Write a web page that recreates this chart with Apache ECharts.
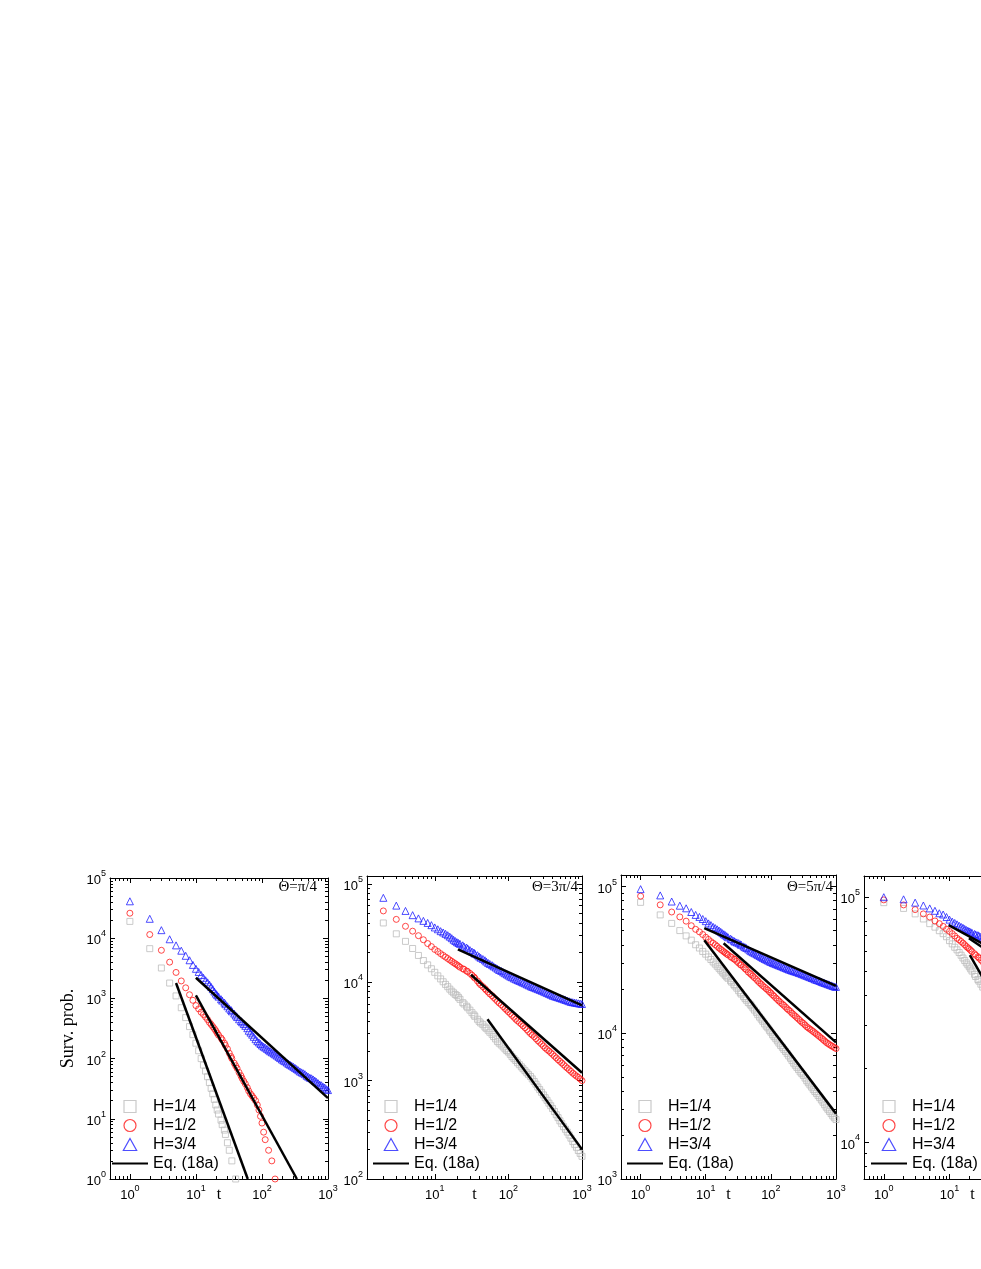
<!DOCTYPE html>
<html>
<head>
<meta charset="utf-8">
<script src="https://cdn.jsdelivr.net/npm/echarts@6/dist/echarts.min.js"></script>
<style>
  body { margin: 0; background: #fff; }
  #wrap { width: 981px; height: 1269px; overflow: hidden; }
  #main { width: 1100px; height: 1269px; }
</style>
</head>
<body>
<div id="wrap"><div id="main"></div></div>
<script>
// time steps (every integer at the start, then roughly even in log t)
var T = [1,2,3,4,5,6,7,8,9,10,11,
  12,13,14,15,16,17,18,19,20,21,22,
  24,25,27,28,30,32,34,35,38,40,42,
  45,48,50,53,56,60,63,67,71,75,80,
  85,90,95,100,106,112,119,126,133,141,150,
  158,168,178,188,200,211,224,237,251,266,282,
  299,316,335,355,376,398,422,447,473,501,531,
  562,596,631,668,708,750,794,841,891,944,1000];

var names = ['H=1/4', 'H=1/2', 'H=3/4', 'Eq. (18a)'];

// Theta = pi/4
var grey1 = [1.9e4,6.7e3,3.2e3,1.8e3,1.1e3,700,480,340,250,180,135,
  100,78,62,50,40,32,26,21,17,14,12,
  9.5,8,6.5,5.5,4,3,null,2,null,1];
var red1 = [2.6e4,1.15e4,6.3e3,4e3,2.7e3,1.95e3,1.5e3,1.15e3,930,760,670,
  590,540,490,445,400,370,340,315,290,265,245,
  220,205,180,165,145,123,108,100,84,76,69,
  59,52,47,42,38,33,29,26,24,22,20,
  17,14,11,8.5,6,4.5,null,3,null,2,null,
  1];
var blue1 = [4.1e4,2.1e4,1.36e4,9.6e3,7.6e3,6.2e3,5.1e3,4.3e3,3.6e3,3.1e3,2.75e3,
  2.45e3,2.2e3,2e3,1.85e3,1.7e3,1.55e3,1.42e3,1.3e3,1.2e3,1.13e3,1.07e3,
  970,920,850,800,740,680,640,610,560,520,490,
  450,420,400,375,350,320,290,270,250,230,210,
  195,185,175,165,158,152,145,138,132,127,122,
  117,112,107,102,97,93,90,86,82,79,76,
  73,70,67,64,61,59,57,55,52,50,48,
  47,45,43,41,39,37,36,34,33,31,30];
var eq1 = [[[5,1800],[61,1]], [[10,1120],[338,1]], [[10,2200],[1000,22]]];

// Theta = 3pi/4
var grey2 = [null,4e4,3.1e4,2.6e4,2.2e4,1.87e4,1.66e4,1.5e4,1.37e4,1.26e4,1.16e4,
  1.08e4,1.01e4,9.5e3,9e3,8.5e3,8.1e3,7.8e3,7.5e3,7.3e3,7e3,6.7e3,
  6.2e3,6e3,5.7e3,5.5e3,5.2e3,4.9e3,4.65e3,4.5e3,4.2e3,4e3,3.85e3,
  3.7e3,3.5e3,3.4e3,3.25e3,3.1e3,2.95e3,2.8e3,2.65e3,2.5e3,2.4e3,2.3e3,
  2.2e3,2.1e3,2.02e3,1.95e3,1.85e3,1.75e3,1.67e3,1.6e3,1.52e3,1.45e3,1.38e3,
  1.32e3,1.26e3,1.2e3,1.15e3,1.1e3,1.04e3,980,920,860,810,760,
  715,670,630,590,555,520,485,450,420,390,365,
  340,320,300,280,260,240,225,210,195,182,170];
var red2 = [null,5.3e4,4.35e4,3.7e4,3.3e4,2.97e4,2.7e4,2.47e4,2.3e4,2.15e4,2.05e4,
  1.95e4,1.87e4,1.8e4,1.74e4,1.68e4,1.63e4,1.58e4,1.54e4,1.5e4,1.46e4,1.42e4,
  1.37e4,1.35e4,1.3e4,1.28e4,1.23e4,1.18e4,1.13e4,1.1e4,1.03e4,9.8e3,9.4e3,
  9e3,8.6e3,8.3e3,7.95e3,7.6e3,7.3e3,7e3,6.7e3,6.4e3,6.15e3,5.9e3,
  5.65e3,5.4e3,5.2e3,5e3,4.8e3,4.6e3,4.4e3,4.2e3,4.05e3,3.9e3,3.75e3,
  3.6e3,3.45e3,3.3e3,3.15e3,3e3,2.9e3,2.8e3,2.67e3,2.55e3,2.45e3,2.35e3,
  2.25e3,2.15e3,2.07e3,2e3,1.92e3,1.85e3,1.77e3,1.7e3,1.63e3,1.57e3,1.51e3,
  1.45e3,1.39e3,1.34e3,1.29e3,1.24e3,1.19e3,1.15e3,1.11e3,1.08e3,1.04e3,1e3];
var blue2 = [null,7.2e4,6e4,5.3e4,4.8e4,4.45e4,4.2e4,4e4,3.8e4,3.6e4,3.45e4,
  3.3e4,3.2e4,3.1e4,3e4,2.9e4,2.8e4,2.7e4,2.62e4,2.55e4,2.5e4,2.45e4,
  2.37e4,2.3e4,2.25e4,2.2e4,2.12e4,2.05e4,2e4,1.95e4,1.88e4,1.82e4,1.77e4,
  1.72e4,1.67e4,1.62e4,1.57e4,1.53e4,1.49e4,1.45e4,1.41e4,1.37e4,1.33e4,1.3e4,
  1.26e4,1.23e4,1.2e4,1.17e4,1.14e4,1.12e4,1.09e4,1.07e4,1.05e4,1.03e4,1.01e4,
  9.9e3,9.7e3,9.5e3,9.3e3,9.1e3,8.95e3,8.8e3,8.65e3,8.5e3,8.35e3,8.2e3,
  8.05e3,7.9e3,7.75e3,7.6e3,7.45e3,7.3e3,7.2e3,7.1e3,7e3,6.9e3,6.8e3,
  6.7e3,6.6e3,6.5e3,6.4e3,6.3e3,6.25e3,6.2e3,6.15e3,6.1e3,6.05e3,6e3];
var eq2 = [[[52,4200],[1000,200]], [[31,11900],[1000,1200]], [[20.6,21500],[1000,5800]]];

// Theta = 5pi/4
var grey3 = [7.8e4,6.4e4,5.6e4,5e4,4.6e4,4.3e4,4e4,3.8e4,3.6e4,3.45e4,3.3e4,
  3.17e4,3.05e4,2.95e4,2.85e4,2.76e4,2.68e4,2.6e4,2.53e4,2.47e4,2.41e4,2.36e4,
  2.27e4,2.22e4,2.14e4,2.09e4,2.02e4,1.94e4,1.88e4,1.84e4,1.77e4,1.72e4,1.67e4,
  1.61e4,1.57e4,1.53e4,1.48e4,1.43e4,1.38e4,1.33e4,1.28e4,1.24e4,1.2e4,1.15e4,
  1.11e4,1.08e4,1.04e4,1.01e4,9.7e3,9.4e3,9.1e3,8.8e3,8.5e3,8.2e3,7.95e3,
  7.7e3,7.45e3,7.2e3,6.95e3,6.7e3,6.45e3,6.2e3,6e3,5.8e3,5.6e3,5.4e3,
  5.25e3,5.1e3,4.9e3,4.7e3,4.55e3,4.4e3,4.25e3,4.1e3,3.97e3,3.85e3,3.72e3,
  3.6e3,3.47e3,3.35e3,3.22e3,3.1e3,3e3,2.9e3,2.8e3,2.7e3,2.62e3,2.55e3];
var red3 = [8.6e4,7.5e4,6.7e4,6.2e4,5.8e4,5.4e4,5.1e4,4.9e4,4.7e4,4.5e4,4.35e4,
  4.2e4,4.1e4,4e4,3.9e4,3.8e4,3.72e4,3.65e4,3.58e4,3.52e4,3.46e4,3.41e4,
  3.32e4,3.27e4,3.2e4,3.17e4,3.08e4,3e4,2.93e4,2.9e4,2.82e4,2.75e4,2.7e4,
  2.6e4,2.55e4,2.5e4,2.44e4,2.38e4,2.32e4,2.26e4,2.2e4,2.15e4,2.1e4,2.05e4,
  2e4,1.96e4,1.91e4,1.87e4,1.82e4,1.78e4,1.73e4,1.69e4,1.65e4,1.61e4,1.57e4,
  1.54e4,1.5e4,1.46e4,1.43e4,1.4e4,1.36e4,1.33e4,1.3e4,1.27e4,1.24e4,1.21e4,
  1.18e4,1.16e4,1.13e4,1.1e4,1.08e4,1.06e4,1.04e4,1.02e4,1e4,9.8e3,9.6e3,
  9.4e3,9.2e3,9e3,8.8e3,8.6e3,8.45e3,8.3e3,8.17e3,8.05e3,7.92e3,7.8e3];
var blue3 = [9.6e4,8.7e4,7.9e4,7.4e4,7.1e4,6.7e4,6.4e4,6.2e4,6e4,5.8e4,5.6e4,
  5.45e4,5.3e4,5.2e4,5.1e4,5e4,4.9e4,4.8e4,4.72e4,4.65e4,4.57e4,4.5e4,
  4.4e4,4.35e4,4.26e4,4.2e4,4.15e4,4.1e4,4.03e4,4e4,3.9e4,3.85e4,3.8e4,
  3.72e4,3.65e4,3.6e4,3.55e4,3.5e4,3.45e4,3.4e4,3.35e4,3.3e4,3.25e4,3.2e4,
  3.16e4,3.12e4,3.08e4,3.05e4,3.01e4,2.98e4,2.95e4,2.92e4,2.89e4,2.86e4,2.83e4,
  2.8e4,2.77e4,2.74e4,2.71e4,2.69e4,2.66e4,2.64e4,2.62e4,2.6e4,2.57e4,2.55e4,
  2.52e4,2.5e4,2.47e4,2.45e4,2.42e4,2.4e4,2.37e4,2.35e4,2.32e4,2.3e4,2.28e4,
  2.26e4,2.23e4,2.21e4,2.19e4,2.17e4,2.15e4,2.13e4,2.11e4,2.09e4,2.07e4,2.06e4];
var eq3 = [[[9.5,43000],[1000,2800]], [[18.8,41000],[1000,8600]], [[9.5,52000],[1000,20900]]];

// fourth panel, cut off at the right edge of the figure
var grey4 = [9.5e4,9e4,8.55e4,8.15e4,7.8e4,7.55e4,7.3e4,7.1e4,6.9e4,6.65e4,6.45e4,
  6.25e4,6.1e4,5.95e4,5.8e4,5.65e4,5.52e4,5.4e4,5.3e4,5.2e4,5.1e4,5e4,
  4.85e4,4.75e4,4.62e4,4.55e4,4.42e4,4.3e4,4.2e4,4.15e4,4e4];
var red4 = [9.75e4,9.3e4,8.9e4,8.55e4,8.3e4,8e4,7.8e4,7.6e4,7.4e4,7.25e4,7.1e4,
  6.95e4,6.8e4,6.7e4,6.6e4,6.5e4,6.4e4,6.3e4,6.22e4,6.15e4,6.07e4,6e4,
  5.88e4,5.8e4,5.72e4,5.65e4,5.55e4,5.45e4,5.38e4,5.35e4,5.25e4];
var blue4 = [1e5,9.8e4,9.5e4,9.25e4,9e4,8.8e4,8.6e4,8.5e4,8.3e4,8.1e4,7.95e4,
  7.85e4,7.75e4,7.65e4,7.57e4,7.5e4,7.42e4,7.35e4,7.3e4,7.25e4,7.2e4,7.15e4,
  7.08e4,7.05e4,7e4,6.95e4,6.9e4,6.85e4,6.8e4,6.75e4,6.7e4];
var eq4 = [[[20.4,58000],[1000,9400]], [[19.7,68000],[1000,33500]], [[9.7,77000],[1000,39000]]];

var panels = [
  { title: 'Θ=π/4', left: 110, top: 878, width: 218, height: 301,
    xr: [0.5, 1000], yr: [1, 1e5], xt: [1, 10, 100, 1000], yt: [1, 10, 100, 1e3, 1e4, 1e5],
    d: [grey1, red1, blue1], eq: eq1, legLeft: 111, titleRight: 317 },
  { title: 'Θ=3π/4', left: 367, top: 876, width: 215, height: 303,
    xr: [1.2, 1000], yr: [100, 1.2e5], xt: [10, 100, 1000], yt: [100, 1e3, 1e4, 1e5],
    d: [grey2, red2, blue2], eq: eq2, legLeft: 372, titleRight: 578 },
  { title: 'Θ=5π/4', left: 621, top: 875, width: 215, height: 304,
    xr: [0.5, 1000], yr: [1000, 1.2e5], xt: [1, 10, 100, 1000], yt: [1e3, 1e4, 1e5],
    d: [grey3, red3, blue3], eq: eq3, legLeft: 626, titleRight: 833 },
  { title: 'Θ=7π/4', left: 864, top: 876, width: 217, height: 303,
    xr: [0.5, 1000], yr: [7100, 1.22e5], xt: [1, 10, 100, 1000], yt: [1e4, 1e5],
    d: [grey4, red4, blue4], eq: eq4, legLeft: 870, titleRight: 1075 }
];

var W = 1100;
var sq = 'path://M0,0L10,0L10,10L0,10Z';
var tri = 'path://M5,0L10,9L0,9Z';
var marks = [
  { symbol: sq, size: 6, color: '#bdbdbd' },
  { symbol: 'circle', size: 6, color: '#ff1a1a' },
  { symbol: tri, size: 7, color: '#2020ff' }
];

function pairs(vals) {
  var out = [];
  for (var i = 0; i < vals.length; i++) {
    if (vals[i] != null) out.push([T[i], vals[i]]);
  }
  return out;
}

function minors(lo, hi) {
  var out = [];
  for (var d = Math.floor(Math.log10(lo)); d <= Math.ceil(Math.log10(hi)); d++) {
    for (var k = 2; k <= 9; k++) {
      var v = k * Math.pow(10, d);
      if (v >= lo && v <= hi) out.push(v);
    }
  }
  return out;
}

function powLabel(v) {
  return '{b|10}{s|' + Math.round(Math.log10(v)) + '}';
}

var labelRich = {
  b: { fontSize: 13, fontFamily: 'Liberation Sans', color: '#000', lineHeight: 18, verticalAlign: 'bottom' },
  s: { fontSize: 9, fontFamily: 'Liberation Sans', color: '#000', lineHeight: 18, verticalAlign: 'top' }
};

function axis(gi, range, ticks, pos, major, withLabel) {
  return {
    type: 'log', logBase: 10, gridIndex: gi, position: pos,
    min: range[0], max: range[1],
    axisLine: { show: major, lineStyle: { color: '#000', width: 1 } },
    axisTick: { show: true, inside: true, length: major ? 5 : 3,
      customValues: major ? ticks : minors(range[0], range[1]),
      lineStyle: { color: '#000', width: 1 } },
    minorTick: { show: false },
    splitLine: { show: false },
    axisLabel: withLabel ? {
      show: true, customValues: ticks, formatter: powLabel, rich: labelRich, margin: 5
    } : { show: false }
  };
}

var option = {
  animation: false,
  backgroundColor: '#fff',
  grid: [], xAxis: [], yAxis: [], series: [], legend: [], title: []
};

panels.forEach(function (p, i) {
  option.grid.push({ left: p.left, top: p.top, width: p.width, height: p.height });

  var xb = axis(i, p.xr, p.xt, 'bottom', true, true);
  xb.name = 't';
  xb.nameLocation = 'middle';
  xb.nameGap = 8;
  xb.nameMoveOverlap = false;
  xb.nameTextStyle = { fontFamily: 'Liberation Serif', fontSize: 16, color: '#000' };
  option.xAxis.push(xb,
    axis(i, p.xr, p.xt, 'bottom', false, false),
    axis(i, p.xr, p.xt, 'top', true, false),
    axis(i, p.xr, p.xt, 'top', false, false));

  var yl = axis(i, p.yr, p.yt, 'left', true, true);
  yl.axisLabel.margin = 4;
  if (i === 0) {
    yl.name = 'Surv. prob.';
    yl.nameLocation = 'middle';
    yl.nameGap = 33;
    yl.nameMoveOverlap = false;
    yl.nameTextStyle = { fontFamily: 'Liberation Serif', fontSize: 18, color: '#000' };
  }
  option.yAxis.push(yl,
    axis(i, p.yr, p.yt, 'left', false, false),
    axis(i, p.yr, p.yt, 'right', true, false),
    axis(i, p.yr, p.yt, 'right', false, false));

  p.d.forEach(function (vals, k) {
    var m = marks[k];
    option.series.push({
      name: names[k], type: 'scatter', xAxisIndex: i * 4, yAxisIndex: i * 4,
      symbol: m.symbol, symbolSize: m.size,
      itemStyle: { color: 'transparent', borderColor: m.color, borderWidth: 1 },
      emphasis: { disabled: true },
      data: pairs(vals)
    });
  });

  p.eq.forEach(function (seg) {
    option.series.push({
      name: names[3], type: 'line', xAxisIndex: i * 4, yAxisIndex: i * 4,
      symbol: 'none', lineStyle: { color: '#000', width: 2.5 },
      itemStyle: { color: 'transparent', borderColor: 'transparent', borderWidth: 0 },
      emphasis: { disabled: true },
      data: seg
    });
  });

  option.legend.push({
    orient: 'vertical', left: p.legLeft, top: 1097, padding: 0, data: names,
    itemWidth: 36, itemHeight: 12, itemGap: 0, selectedMode: false,
    itemStyle: { borderWidth: 1.2 },
    textStyle: { fontFamily: 'Liberation Sans', fontSize: 16, color: '#000', lineHeight: 19 }
  });

  option.title.push({
    text: p.title, right: W - p.titleRight, top: 880, padding: 0,
    textStyle: { fontFamily: 'Liberation Serif', fontSize: 15, fontWeight: 'normal', color: '#000' }
  });
});

var chart = echarts.init(document.getElementById('main'));
chart.setOption(option);
</script>
</body>
</html>
